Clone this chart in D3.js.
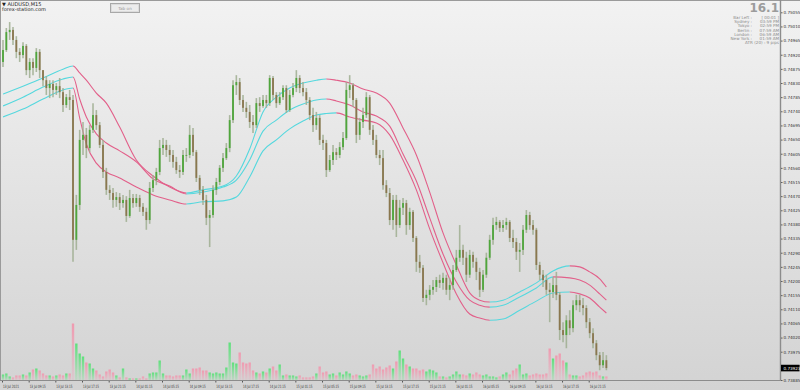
<!DOCTYPE html>
<html><head><meta charset="utf-8">
<script src="https://cdn.jsdelivr.net/npm/d3@7"></script>
<style>body{margin:0;overflow:hidden;background:#d2d2d2} text{font-family:"DejaVu Sans",Arial,sans-serif}</style>
</head><body><svg id="c" width="800" height="390"></svg>
<script>
// ---------- DATA (30-minute aggregation of the AUDUSD M15 chart) ----------
const xLabels=["13 Jul 2021","13 Jul 09:15","13 Jul 13:15","13 Jul 17:15","13 Jul 21:15","14 Jul 01:15","14 Jul 05:15","14 Jul 09:15","14 Jul 13:15","14 Jul 17:15","14 Jul 21:15","15 Jul 01:15","15 Jul 05:15","15 Jul 09:15","15 Jul 13:15","15 Jul 17:15","15 Jul 21:15","16 Jul 01:15","16 Jul 05:15","16 Jul 09:15","16 Jul 13:15","16 Jul 17:15","16 Jul 21:15"];
const yTicks=[0.73885,0.73930,0.73975,0.74020,0.74065,0.74110,0.74155,0.74200,0.74245,0.74290,0.74335,0.74380,0.74425,0.74470,0.74515,0.74560,0.74605,0.74650,0.74695,0.74740,0.74785,0.74830,0.74875,0.74920,0.74965,0.75010,0.75055];
const close=[0.74935,0.74992,0.74999,0.74967,0.74929,0.74919,0.74948,0.74871,0.74897,0.74878,
0.74929,0.74871,0.74839,0.74814,0.74827,0.74808,0.74820,0.74801,0.74760,0.74785,
0.74776,0.74331,0.74442,0.74649,0.74665,0.74623,0.74681,0.74728,0.74696,0.74633,
0.74547,0.74490,0.74480,0.74458,0.74467,0.74448,0.74458,0.74407,0.74464,0.74448,
0.74464,0.74436,0.74420,0.74394,0.74496,0.74521,0.74547,0.74623,0.74633,0.74617,
0.74601,0.74579,0.74553,0.74547,0.74601,0.74601,0.74665,0.74610,0.74528,0.74490,
0.74458,0.74401,0.74410,0.74490,0.74515,0.74560,0.74591,0.74623,0.74712,0.74823,
0.74833,0.74776,0.74751,0.74738,0.74706,0.74696,0.74766,0.74757,0.74776,0.74766,
0.74846,0.74792,0.74766,0.74785,0.74814,0.74744,0.74792,0.74814,0.74846,0.74814,
0.74801,0.74776,0.74728,0.74696,0.74719,0.74649,0.74639,0.74553,0.74585,0.74610,
0.74601,0.74626,0.74655,0.74808,0.74823,0.74776,0.74665,0.74706,0.74728,0.74785,
0.74681,0.74649,0.74601,0.74591,0.74505,0.74480,0.74394,0.74458,0.74378,0.74433,
0.74448,0.74378,0.74420,0.74337,0.74261,0.74242,0.74146,0.74156,0.74172,0.74181,
0.74203,0.74194,0.74210,0.74172,0.74187,0.74235,0.74274,0.74299,0.74274,0.74220,
0.74283,0.74261,0.74229,0.74172,0.74220,0.74274,0.74331,0.74378,0.74388,0.74369,
0.74378,0.74388,0.74337,0.74324,0.74293,0.74299,0.74363,0.74410,0.74378,0.74363,
0.74251,0.74220,0.74203,0.74172,0.74165,0.74187,0.74156,0.74044,0.74028,0.74075,
0.74050,0.74123,0.74139,0.74123,0.74114,0.74069,0.74034,0.74002,0.73964,0.73932,
0.73948,0.73923];
const open=[0.74897,0.74935,0.74992,0.74999,0.74967,0.74929,0.74919,0.74948,0.74871,0.74897,
0.74878,0.74929,0.74871,0.74839,0.74814,0.74827,0.74808,0.74820,0.74801,0.74760,
0.74785,0.74776,0.74331,0.74442,0.74649,0.74665,0.74623,0.74681,0.74728,0.74696,
0.74633,0.74547,0.74490,0.74480,0.74458,0.74467,0.74448,0.74458,0.74407,0.74464,
0.74448,0.74464,0.74436,0.74420,0.74394,0.74496,0.74521,0.74547,0.74623,0.74633,
0.74617,0.74601,0.74579,0.74553,0.74547,0.74601,0.74601,0.74665,0.74610,0.74528,
0.74490,0.74458,0.74401,0.74410,0.74490,0.74515,0.74560,0.74591,0.74623,0.74712,
0.74823,0.74833,0.74776,0.74751,0.74738,0.74706,0.74696,0.74766,0.74757,0.74776,
0.74766,0.74846,0.74792,0.74766,0.74785,0.74814,0.74744,0.74792,0.74814,0.74846,
0.74814,0.74801,0.74776,0.74728,0.74696,0.74719,0.74649,0.74639,0.74553,0.74585,
0.74610,0.74601,0.74626,0.74655,0.74808,0.74823,0.74776,0.74665,0.74706,0.74728,
0.74785,0.74681,0.74649,0.74601,0.74591,0.74505,0.74480,0.74394,0.74458,0.74378,
0.74433,0.74448,0.74378,0.74420,0.74337,0.74261,0.74242,0.74146,0.74156,0.74172,
0.74181,0.74203,0.74194,0.74210,0.74172,0.74187,0.74235,0.74274,0.74299,0.74274,
0.74220,0.74283,0.74261,0.74229,0.74172,0.74220,0.74274,0.74331,0.74378,0.74388,
0.74369,0.74378,0.74388,0.74337,0.74324,0.74293,0.74299,0.74363,0.74410,0.74378,
0.74363,0.74251,0.74220,0.74203,0.74172,0.74165,0.74187,0.74156,0.74044,0.74028,
0.74075,0.74050,0.74123,0.74139,0.74123,0.74114,0.74069,0.74034,0.74002,0.73964,
0.73932,0.73948];
const high=[0.74967,0.75005,0.75024,0.75008,0.74979,0.74941,0.74960,0.74954,0.74909,0.74909,
0.74941,0.74938,0.74871,0.74852,0.74839,0.74839,0.74830,0.74846,0.74814,0.74795,
0.74808,0.74792,0.74474,0.74681,0.74706,0.74687,0.74696,0.74766,0.74744,0.74706,
0.74649,0.74560,0.74505,0.74496,0.74483,0.74480,0.74474,0.74470,0.74490,0.74477,
0.74477,0.74474,0.74448,0.74433,0.74515,0.74537,0.74560,0.74649,0.74655,0.74649,
0.74633,0.74617,0.74595,0.74569,0.74617,0.74623,0.74696,0.74687,0.74617,0.74537,
0.74502,0.74474,0.74426,0.74505,0.74528,0.74569,0.74607,0.74639,0.74728,0.74839,
0.74855,0.74846,0.74792,0.74770,0.74760,0.74728,0.74782,0.74785,0.74792,0.74792,
0.74855,0.74852,0.74801,0.74801,0.74823,0.74823,0.74808,0.74830,0.74871,0.74855,
0.74833,0.74814,0.74785,0.74751,0.74738,0.74728,0.74665,0.74649,0.74601,0.74633,
0.74623,0.74642,0.74674,0.74833,0.74855,0.74830,0.74782,0.74719,0.74751,0.74801,
0.74792,0.74696,0.74665,0.74617,0.74617,0.74521,0.74496,0.74474,0.74474,0.74458,
0.74464,0.74458,0.74433,0.74426,0.74343,0.74283,0.74251,0.74172,0.74187,0.74203,
0.74213,0.74220,0.74226,0.74220,0.74210,0.74251,0.74299,0.74378,0.74315,0.74293,
0.74299,0.74293,0.74274,0.74242,0.74235,0.74290,0.74347,0.74401,0.74404,0.74394,
0.74394,0.74401,0.74394,0.74363,0.74337,0.74321,0.74378,0.74426,0.74420,0.74394,
0.74369,0.74261,0.74235,0.74220,0.74194,0.74213,0.74229,0.74165,0.74069,0.74091,
0.74107,0.74139,0.74156,0.74156,0.74146,0.74123,0.74082,0.74050,0.74012,0.73974,
0.73974,0.73964];
const low=[0.74881,0.74929,0.74967,0.74951,0.74909,0.74897,0.74909,0.74855,0.74846,0.74855,
0.74865,0.74846,0.74820,0.74792,0.74782,0.74785,0.74792,0.74782,0.74738,0.74751,
0.74744,0.74261,0.74299,0.74426,0.74601,0.74591,0.74610,0.74671,0.74681,0.74623,
0.74528,0.74474,0.74458,0.74433,0.74436,0.74426,0.74433,0.74388,0.74401,0.74433,
0.74436,0.74420,0.74407,0.74363,0.74382,0.74483,0.74505,0.74537,0.74601,0.74595,
0.74579,0.74560,0.74541,0.74528,0.74537,0.74579,0.74591,0.74598,0.74515,0.74474,
0.74442,0.74378,0.74308,0.74401,0.74474,0.74505,0.74547,0.74585,0.74610,0.74703,
0.74792,0.74760,0.74738,0.74719,0.74687,0.74671,0.74687,0.74738,0.74751,0.74751,
0.74757,0.74776,0.74751,0.74760,0.74776,0.74735,0.74738,0.74785,0.74801,0.74798,
0.74788,0.74760,0.74712,0.74674,0.74681,0.74633,0.74617,0.74531,0.74547,0.74569,
0.74585,0.74591,0.74617,0.74649,0.74782,0.74754,0.74639,0.74649,0.74687,0.74719,
0.74665,0.74633,0.74591,0.74569,0.74490,0.74467,0.74378,0.74363,0.74340,0.74369,
0.74410,0.74347,0.74363,0.74324,0.74229,0.74226,0.74133,0.74123,0.74139,0.74156,
0.74165,0.74178,0.74172,0.74156,0.74139,0.74172,0.74229,0.74261,0.74251,0.74197,
0.74210,0.74242,0.74203,0.74149,0.74165,0.74210,0.74267,0.74315,0.74363,0.74356,
0.74356,0.74363,0.74324,0.74305,0.74267,0.74229,0.74283,0.74353,0.74363,0.74347,
0.74235,0.74203,0.74181,0.74156,0.74069,0.74146,0.74139,0.74012,0.74005,0.73986,
0.74028,0.74037,0.74107,0.74101,0.74091,0.74050,0.74018,0.73986,0.73948,0.73916,
0.73923,0.73916];
const volume=[120,140,80,60,100,100,120,100,160,220,240,200,140,100,100,80,100,120,100,140,
140,1140,740,540,480,360,340,240,200,120,80,180,220,160,100,60,240,60,40,40,
40,40,80,40,140,160,160,400,140,100,100,80,100,100,100,220,140,240,240,260,
200,200,160,140,160,140,140,260,760,360,340,560,360,340,360,200,160,140,180,160,
240,280,200,320,100,120,100,100,80,100,60,60,60,80,140,280,160,180,120,140,
100,160,120,180,140,100,120,100,80,100,120,320,240,280,220,260,300,240,380,600,
440,320,280,240,240,200,220,180,220,200,160,80,80,60,80,120,180,120,120,100,
140,120,160,120,100,120,80,80,60,80,120,160,120,200,240,320,120,140,100,120,
140,120,120,140,640,440,500,540,400,360,120,100,100,80,100,160,180,160,180,100,
80,80];
const bandIdx=[0,6,12,18,21,23,25,28,31,35,40,45,50,55,60,66,70,74,78,82,86,90,94,97,100,104,108,112,116,120,124,128,132,136,140,143,146,150,155,160,165,170,173,176,179,181];
const bandUpper=[0.74795,0.74820,0.74846,0.74874,0.74884,0.74862,0.74839,0.74798,0.74766,0.74690,0.74585,0.74534,0.74499,0.74480,0.74490,0.74502,0.74534,0.74620,0.74738,0.74785,0.74814,0.74830,0.74839,0.74843,0.74839,0.74830,0.74811,0.74798,0.74766,0.74687,0.74601,0.74483,0.74353,0.74251,0.74162,0.74139,0.74133,0.74139,0.74165,0.74194,0.74232,0.74248,0.74245,0.74229,0.74207,0.74181];
const bandMiddle=[0.74757,0.74785,0.74817,0.74843,0.74849,0.74779,0.74722,0.74668,0.74639,0.74614,0.74579,0.74525,0.74502,0.74477,0.74483,0.74499,0.74521,0.74585,0.74677,0.74712,0.74744,0.74763,0.74776,0.74779,0.74773,0.74760,0.74738,0.74725,0.74693,0.74604,0.74518,0.74401,0.74286,0.74197,0.74139,0.74123,0.74117,0.74123,0.74149,0.74178,0.74213,0.74210,0.74203,0.74187,0.74159,0.74139];
const bandLower=[0.74722,0.74747,0.74779,0.74808,0.74814,0.74719,0.74636,0.74575,0.74547,0.74528,0.74499,0.74474,0.74458,0.74445,0.74452,0.74455,0.74467,0.74531,0.74614,0.74649,0.74684,0.74709,0.74728,0.74733,0.74735,0.74722,0.74712,0.74703,0.74665,0.74585,0.74490,0.74366,0.74258,0.74159,0.74095,0.74082,0.74075,0.74079,0.74107,0.74136,0.74162,0.74165,0.74159,0.74146,0.74117,0.74098];
const lastPrice=0.73923;
const infoLabels=["Bar Left :","Sydney :","Tokyo :","Berlin :","London :","New York :"];
const infoValues=["[ 00:01 ]","03:59 PM","02:59 PM","07:59 AM","06:59 AM","01:59 AM"];
const atrText="ATR (20) : 9 pips";
const bigValue="16.1";

// ---------- DRAW ----------
const svg=d3.select("#c");
const defs=svg.append("defs");
const bg=defs.append("linearGradient").attr("id","bg").attr("x1",0).attr("y1",0).attr("x2",0).attr("y2",1);
bg.append("stop").attr("offset","0%").attr("stop-color","#f2f2f2");
bg.append("stop").attr("offset","100%").attr("stop-color","#d3d3d3");
function vgrad(id,c){const g=defs.append("linearGradient").attr("id",id).attr("x1",0).attr("y1",0).attr("x2",0).attr("y2",1);
 g.append("stop").attr("offset","0%").attr("stop-color",c).attr("stop-opacity",1);
 g.append("stop").attr("offset","100%").attr("stop-color",c).attr("stop-opacity",0.15);}
vgrad("vg","#5fe07c"); vgrad("vp","#f09ab0");

svg.append("rect").attr("width",800).attr("height",390).attr("fill","url(#bg)");

const PR=780.5, PB=380.5;
const xs=d3.scaleLinear().domain([0,176]).range([2,588.7]);
const ys=d3.scaleLinear().domain([0.73885,0.75055]).range([380,12.3]);
const vs=d3.scaleLinear().domain([0,1200]).range([0,60]);
const cx=i=>xs(i)+1;

const plot=svg.append("g");
// volumes
plot.append("g").selectAll("rect").data(volume).join("rect")
 .attr("x",(d,i)=>cx(i)-1.2).attr("width",2.4)
 .attr("y",d=>PB-vs(d)).attr("height",d=>vs(d))
 .attr("fill",(d,i)=>close[i]>=open[i]?"url(#vg)":"url(#vp)");

// bands
const bands=[bandUpper,bandMiddle,bandLower];
const line=d3.line().x(d=>cx(d[0])).y(d=>ys(d[1])).curve(d3.curveMonotoneX);
bands.forEach((b,j)=>{
 const pts=bandIdx.map((k,n)=>[k,b[n]]);
 const cu=defs.append("clipPath").attr("id","cu"+j), cd=defs.append("clipPath").attr("id","cd"+j);
 for(let n=0;n<pts.length-1;n++){
  const up=b[n+1]>=b[n];
  (up?cu:cd).append("rect").attr("x",cx(bandIdx[n])).attr("y",0)
   .attr("width",cx(bandIdx[n+1])-cx(bandIdx[n])+(n===pts.length-2?2:0.01)).attr("height",390);
 }
 plot.append("path").attr("d",line(pts)).attr("fill","none").attr("stroke","#55d8de").attr("stroke-width",1.1).attr("clip-path","url(#cu"+j+")");
 plot.append("path").attr("d",line(pts)).attr("fill","none").attr("stroke","#e2608a").attr("stroke-width",1.1).attr("clip-path","url(#cd"+j+")");
});

// candles
const cg=plot.append("g");
cg.selectAll("line").data(close).join("line")
 .attr("x1",(d,i)=>cx(i)).attr("x2",(d,i)=>cx(i))
 .attr("y1",(d,i)=>ys(high[i])).attr("y2",(d,i)=>ys(low[i]))
 .attr("stroke","#9fae90").attr("stroke-opacity",0.85).attr("stroke-width",1.6);
cg.selectAll("rect").data(close).join("rect")
 .attr("x",(d,i)=>cx(i)-0.9).attr("width",1.8)
 .attr("y",(d,i)=>ys(Math.max(open[i],d)))
 .attr("height",(d,i)=>Math.max(0.8,Math.abs(ys(open[i])-ys(d))))
 .attr("fill",(d,i)=>d>=open[i]?"#4fa63c":"#8a774f");

// frame
svg.append("line").attr("x1",0).attr("x2",800).attr("y1",0.5).attr("y2",0.5).attr("stroke","#9a9a9a");
svg.append("line").attr("x1",0.5).attr("x2",0.5).attr("y1",0).attr("y2",PB).attr("stroke","#9a9a9a");

// y axis
const ya=svg.append("g").attr("transform",`translate(${PR},0)`)
 .call(d3.axisRight(ys).tickValues(yTicks).tickSize(2).tickPadding(1).tickFormat(d3.format(".5f")));
ya.select(".domain").remove();
ya.selectAll("line").attr("stroke","#555");
ya.selectAll("text").attr("font-size","4.1px").attr("fill","#333").attr("font-family","Liberation Sans, Arial, sans-serif");
svg.append("line").attr("x1",PR).attr("x2",PR).attr("y1",0).attr("y2",PB).attr("stroke","#8c8c8c").attr("stroke-width",1.4);

// x axis
const xa=svg.append("g").attr("transform",`translate(0,${PB})`)
 .call(d3.axisBottom(xs).tickValues(xLabels.map((_,k)=>k*8)).tickSize(2).tickPadding(2).tickFormat((d,k)=>xLabels[k]));
xa.select(".domain").remove();
xa.selectAll("line").attr("stroke","#555");
xa.selectAll("text").attr("text-anchor","start").attr("dx","0.5").attr("font-size","4.4px").attr("fill","#333").attr("textLength",16).attr("lengthAdjust","spacingAndGlyphs");
svg.append("line").attr("x1",0).attr("x2",PR).attr("y1",PB).attr("y2",PB).attr("stroke","#8c8c8c").attr("stroke-width",1.2);

// last price box
const ly=ys(lastPrice);
svg.append("rect").attr("x",PR+0.5).attr("y",ly-3.3).attr("width",18.5).attr("height",6.6).attr("fill","#000");
svg.append("text").attr("x",PR+3).attr("y",ly+1.5).attr("font-size","4.1px").attr("fill","#fff").attr("font-family","Liberation Sans, Arial, sans-serif").text(d3.format(".5f")(lastPrice));

// top-left labels
svg.append("text").attr("x",2).attr("y",6).attr("font-size","5px").attr("fill","#222").text("▼ AUDUSD,M15");
svg.append("text").attr("x",2).attr("y",11).attr("font-size","5px").attr("fill","#222").text("forex-station.com");
svg.append("rect").attr("x",110.5).attr("y",3.5).attr("width",29).attr("height",9).attr("fill","#ececec").attr("stroke","#a8a8a8");
svg.append("rect").attr("x",111.5).attr("y",4.5).attr("width",27).attr("height",7).attr("fill","none").attr("stroke","#dcdcdc");
svg.append("text").attr("x",125).attr("y",9.6).attr("text-anchor","middle").attr("font-size","4.2px").attr("fill","#999").text("Tab on");

// top-right info
svg.append("text").attr("x",779).attr("y",12.2).attr("text-anchor","end").attr("font-size","12px").attr("font-weight","bold").attr("fill","#9c9c9c").text(bigValue);
const rowY=[18.6,22.9,27.2,31.5,35.8,40.1];
infoLabels.forEach((t,k)=>{
 svg.append("text").attr("x",752).attr("y",rowY[k]).attr("text-anchor","end").attr("font-size","4.1px").attr("fill","#8a8a8a").text(t);
 svg.append("text").attr("x",779).attr("y",rowY[k]).attr("text-anchor","end").attr("font-size","4.1px").attr("fill","#8a8a8a").text(infoValues[k]);
});
svg.append("text").attr("x",779).attr("y",44.4).attr("text-anchor","end").attr("font-size","4.1px").attr("fill","#8a8a8a").text(atrText);
</script></body></html>
